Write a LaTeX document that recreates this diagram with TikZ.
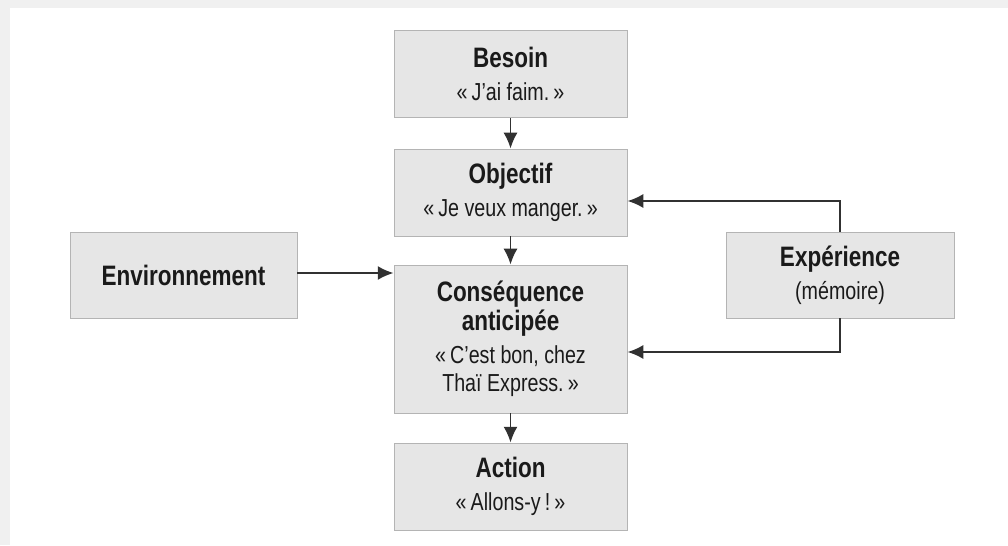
\documentclass[tikz,border=0pt]{standalone}
\usepackage{fontspec}
\setmainfont{Liberation Sans}[FakeStretch=0.8]
\usepackage{xcolor}
\usepackage{tikz}
\usetikzlibrary{arrows}
\usetikzlibrary{arrows.meta}
\usetikzlibrary{positioning}

\definecolor{boxgray}{HTML}{E6E6E6}
\definecolor{edgegray}{HTML}{B4B4B4}
\definecolor{inkgray}{HTML}{1A1A1A}

\newcommand{\boxtitle}[1]{{\fontsize{16}{18}\selectfont\bfseries #1}}

\begin{document}
\begin{tikzpicture}[>={Latex[length=9pt, width=8pt]}, font=\fontsize{14}{16}\selectfont, text=inkgray,
  box/.style = {fill = boxgray, draw = edgegray, line width = 0.5pt, align = center, inner sep = 2pt},
  link/.style = {->, inkgray!90, line width = 1.1pt}]
\def\boxW{4.66}
\def\boxH{1.74}
\def\gap{3pt}

% frame
\fill [gray!12] (0, 0) rectangle (20.16, 10.9);
\fill [white] (0.2, 0) rectangle (20.16, 10.74);
\useasboundingbox (0, 0) rectangle (20.16, 10.9);

% centre column
\node [box, minimum width = \boxW cm, minimum height = \boxH cm] (besoin) at (10.21, 9.42) {\boxtitle{Besoin}\\[\gap]«\,J’ai faim.\,»};
\node [box, minimum width = \boxW cm, minimum height = \boxH cm] (objectif) at (10.21, 7.05) {\boxtitle{Objectif}\\[\gap]«\,Je veux manger.\,»};
\node [box, minimum width = \boxW cm, minimum height = 2.96cm] (consequence) at (10.21, 4.12) {\boxtitle{Conséquence}\\\boxtitle{anticipée}\\[\gap]«\,C’est bon, chez\\Thaï Express.\,»};
\node [box, minimum width = \boxW cm, minimum height = \boxH cm] (action) at (10.21, 1.17) {\boxtitle{Action}\\[\gap]«\,Allons-y\,!\,»};

% sides
\node [box, minimum width = 4.54cm, minimum height = 1.72cm] (environnement) at (3.67, 5.4) {\boxtitle{Environnement}};
\node [box, minimum width = 4.56cm, minimum height = 1.72cm] (experience) at (16.8, 5.4) {\boxtitle{Expérience}\\[\gap](mémoire)};

% links
\draw [link] (besoin) -- (objectif);
\draw [link] (objectif) -- (consequence);
\draw [link] (consequence) -- (action);
\draw [link] ([yshift = 0.04cm] environnement.east) -- ([yshift = 0.04cm] environnement.east -| consequence.west);
\draw [link] (experience.north) |- ([yshift = -0.17cm] objectif.east);
\draw [link] (experience.south) |- ([yshift = -0.26cm] consequence.east);
\end{tikzpicture}
\end{document}
